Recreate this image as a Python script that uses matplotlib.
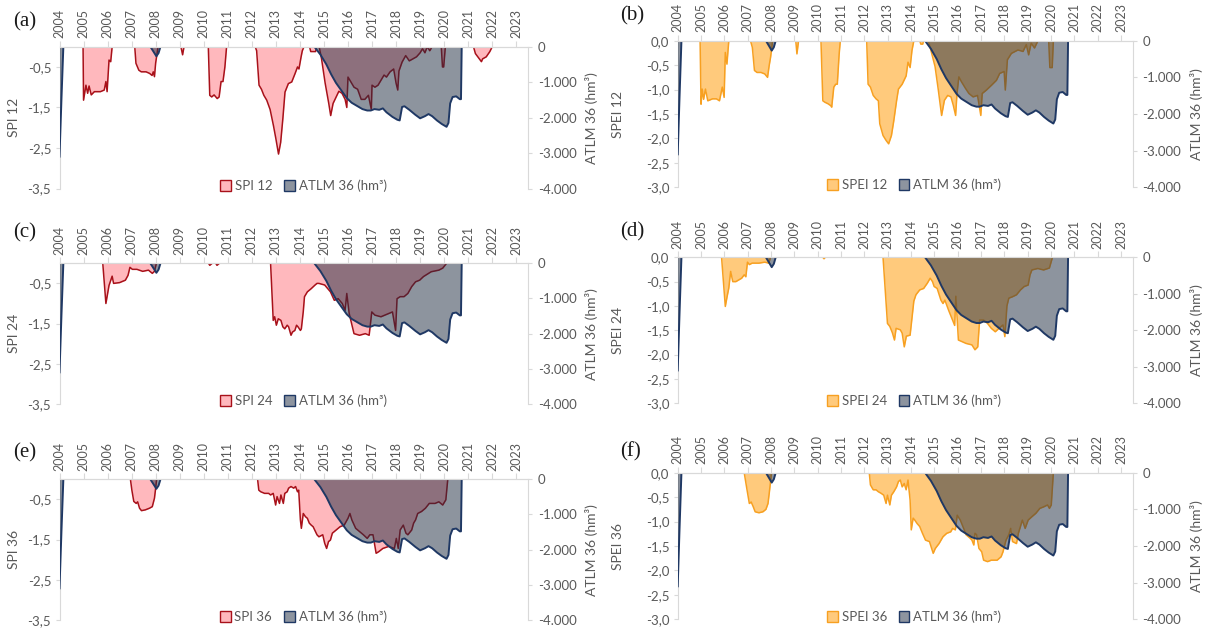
import numpy as np
import matplotlib
matplotlib.use("Agg")
import matplotlib.pyplot as plt
from matplotlib.patches import Patch
from matplotlib.ticker import FuncFormatter

plt.rcParams['font.family'] = ['Lato', 'DejaVu Sans']

years = list(range(2004, 2024))

# ATLM 36 (hm3), same series in every panel
atlm_t = [2004.0, 2004.08, 2004.16,
          2007.78, 2007.92, 2008.03, 2008.12, 2008.2,
          2014.6, 2014.85, 2015.1, 2015.3, 2015.5, 2015.75, 2015.95, 2016.15, 2016.4, 2016.6,
          2016.8, 2016.95, 2017.1, 2017.3, 2017.45, 2017.6, 2017.85, 2018.05, 2018.15, 2018.25,
          2018.35, 2018.55, 2018.8, 2019.0, 2019.2, 2019.35, 2019.5, 2019.7, 2019.9, 2020.1,
          2020.18, 2020.25, 2020.35, 2020.5, 2020.65, 2020.7, 2020.73]
atlm_v = [-3100, -1500, 0,
          0, -150, -270, -180, 0,
          0, -220, -500, -780, -1020, -1260, -1450, -1580, -1680, -1760,
          -1800, -1800, -1760, -1780, -1740, -1850, -1980, -2060, -2080, -1700,
          -1680, -1780, -1920, -2020, -1960, -1900, -1960, -2080, -2180, -2260,
          -2150, -1600, -1420, -1400, -1480, -1480, 0]

spi12_t = [2004.98, 2005.0, 2005.1, 2005.17, 2005.23, 2005.32, 2005.45, 2005.7, 2005.86, 2005.93, 2005.98, 2006.06, 2006.13, 2006.19,
           2007.13, 2007.18, 2007.3, 2007.4, 2007.6, 2007.75, 2007.85, 2007.9, 2007.95, 2008.0, 2008.05, 2008.1,
           2009.05, 2009.12, 2009.18,
           2010.19, 2010.25, 2010.33, 2010.43, 2010.56, 2010.64, 2010.72, 2010.8, 2010.88, 2010.95,
           2012.14, 2012.2, 2012.3, 2012.4, 2012.5, 2012.62, 2012.76, 2012.9, 2013.0, 2013.11, 2013.2, 2013.29,
           2013.38, 2013.52, 2013.66, 2013.8, 2013.9, 2013.96, 2014.05, 2014.1, 2014.17,
           2014.4, 2014.45, 2014.65, 2014.7,
           2014.8, 2014.9, 2015.05, 2015.2, 2015.28, 2015.38, 2015.5, 2015.62, 2015.75, 2015.88, 2015.95, 2016.0,
           2016.1, 2016.25, 2016.4, 2016.55, 2016.7, 2016.85, 2016.97, 2017.0, 2017.12, 2017.25, 2017.4, 2017.5,
           2017.6, 2017.75, 2017.9, 2018.0, 2018.07, 2018.12, 2018.25, 2018.4, 2018.55, 2018.7, 2018.85, 2019.0,
           2019.1, 2019.2, 2019.3, 2019.4, 2019.5, 2019.88, 2019.93, 2019.98, 2020.05,
           2021.22, 2021.3, 2021.45, 2021.55, 2021.6, 2021.75, 2021.9, 2022.0]
spi12_v = [0, -1.32, -0.95, -1.15, -0.97, -1.19, -1.11, -1.11, -1.07, -0.86, -1.11, -0.33, -0.37, 0,
           0, -0.41, -0.58, -0.62, -0.62, -0.66, -0.71, -0.62, -0.74, -0.4, -0.2, 0,
           0, -0.2, 0,
           0, -1.2, -1.24, -1.19, -1.28, -1.24, -0.86, -0.86, -0.5, 0,
           0, -0.1, -0.95, -1.05, -1.2, -1.32, -1.55, -1.95, -2.27, -2.65, -2.36, -1.78,
           -1.12, -0.91, -0.87, -0.66, -0.5, -0.55, -0.25, -0.1, 0,
           0, -0.12, -0.12, 0,
           0, -0.3, -0.9, -1.4, -1.7, -1.4, -1.25, -1.1, -1.15, -1.3, -1.5, -0.75,
           -0.85, -1.0, -1.05, -1.3, -1.3, -1.2, -1.55, -0.95, -1.0, -0.95, -0.8, -0.7,
           -0.75, -0.62, -0.55, -0.9, -1.07, -0.6, -0.38, -0.22, -0.35, -0.3, -0.25, -0.15,
           -0.05, -0.15, 0, -0.1, 0, 0, -0.5, -0.5, 0,
           0, -0.17, -0.29, -0.37, -0.3, -0.25, -0.12, 0]

spei12_t = [2004.96, 2005.0, 2005.05, 2005.11, 2005.19, 2005.29, 2005.49, 2005.66, 2005.79, 2005.91, 2005.99, 2006.04, 2006.11, 2006.19,
            2007.12, 2007.2, 2007.29, 2007.4, 2007.57, 2007.73, 2007.85, 2007.92, 2007.98, 2008.07,
            2009.06, 2009.11, 2009.18,
            2010.14, 2010.22, 2010.31, 2010.44, 2010.56, 2010.6, 2010.69, 2010.77, 2010.84, 2010.92, 2010.97,
            2012.1, 2012.16, 2012.26, 2012.38, 2012.5, 2012.6, 2012.66, 2012.8, 2012.93, 2013.04, 2013.16, 2013.26,
            2013.38, 2013.46, 2013.62, 2013.79, 2013.87, 2013.96, 2014.04, 2014.12,
            2014.37, 2014.42, 2014.5, 2014.54,
            2014.74, 2014.81, 2015.03, 2015.17, 2015.31, 2015.43, 2015.57, 2015.71, 2015.81, 2015.91, 2015.97, 2016.05,
            2016.16, 2016.34, 2016.48, 2016.66, 2016.85, 2016.99, 2017.05, 2017.23, 2017.45, 2017.66, 2017.8, 2017.99,
            2018.04, 2018.13, 2018.3, 2018.58, 2018.8, 2018.94, 2019.04, 2019.15, 2019.29, 2019.44, 2019.9, 2019.95,
            2020.05, 2020.1]
spei12_v = [0, -1.3, -0.99, -1.2, -0.99, -1.23, -1.19, -1.19, -1.23, -0.95, -1.16, -0.24, -0.48, 0,
            0, -0.14, -0.61, -0.65, -0.65, -0.68, -0.75, -0.51, -0.34, 0,
            0, -0.27, 0,
            0, -1.23, -1.26, -1.29, -1.33, -1.36, -0.95, -0.89, -0.89, -0.27, 0,
            0, -0.89, -0.95, -1.12, -1.19, -1.23, -1.7, -1.94, -2.04, -2.11, -1.94, -1.64,
            -1.23, -0.99, -0.89, -0.72, -0.44, -0.55, -0.2, 0,
            0, -0.07, -0.07, 0,
            0, -0.12, -0.53, -1.01, -1.53, -1.22, -1.12, -1.15, -1.32, -1.53, -1.08, -0.74,
            -0.84, -0.98, -1.08, -1.15, -1.12, -1.53, -1.08, -1.01, -0.91, -0.81, -0.67, -0.63,
            -1.01, -0.39, -0.26, -0.19, -0.22, -0.08, -0.29, -0.05, -0.15, 0, 0, -0.55,
            -0.55, 0]

spi24_t = [2005.8, 2005.93, 2006.06, 2006.19, 2006.25, 2006.5, 2006.74, 2006.85, 2006.93, 2007.03, 2007.22, 2007.46, 2007.7, 2007.86, 2007.95, 2008.03,
           2010.2, 2010.25, 2010.35, 2010.5, 2010.55, 2010.65,
           2012.78, 2012.89, 2012.95, 2013.02, 2013.1, 2013.21, 2013.29, 2013.37, 2013.47, 2013.53, 2013.63, 2013.69,
           2013.79, 2013.86, 2013.92, 2014.02, 2014.06, 2014.14, 2014.19, 2014.31, 2014.47, 2014.63, 2014.71, 2014.79,
           2015.03, 2015.27, 2015.43, 2015.59, 2015.76, 2015.88, 2015.95, 2016.05, 2016.13, 2016.25, 2016.48, 2016.72,
           2016.88, 2016.99, 2017.12, 2017.37, 2017.53, 2017.69, 2017.85, 2017.98, 2018.04, 2018.17, 2018.33, 2018.49,
           2018.65, 2018.81, 2018.98, 2019.14, 2019.46, 2019.78, 2019.94, 2020.1]
spi24_v = [0, -1.0, -0.55, -0.32, -0.5, -0.48, -0.42, -0.3, -0.1, -0.15, -0.15, -0.2, -0.17, -0.25, -0.2, 0,
           0, -0.05, 0, 0, -0.05, 0,
           0, -1.42, -1.33, -1.54, -1.38, -1.42, -1.58, -1.63, -1.54, -1.58, -1.79, -1.71,
           -1.67, -1.54, -1.58, -1.67, -1.63, -1.2, -0.83, -0.71, -0.63, -0.54, -0.5, -0.5,
           -0.54, -0.71, -0.92, -0.88, -1.0, -1.17, -0.75, -1.25, -1.45, -1.75, -1.79, -1.75,
           -1.79, -1.21, -1.29, -1.33, -1.29, -1.25, -1.21, -1.67, -0.88, -0.83, -0.83, -0.75,
           -0.58, -0.46, -0.42, -0.33, -0.21, -0.17, -0.12, 0]

spei24_t = [2005.88, 2006.04, 2006.12, 2006.19, 2006.27, 2006.36, 2006.49, 2006.74, 2006.85, 2006.92, 2006.99, 2007.07, 2007.19, 2007.48, 2007.73, 2007.9, 2007.98,
            2010.22, 2010.27, 2010.32,
            2012.8, 2012.99, 2013.09, 2013.2, 2013.29, 2013.36, 2013.54, 2013.62, 2013.71, 2013.8, 2013.96, 2014.04,
            2014.12, 2014.21, 2014.37, 2014.54, 2014.7, 2014.82, 2014.92, 2014.99, 2015.12, 2015.28, 2015.37, 2015.45,
            2015.62, 2015.78, 2015.87, 2015.92, 2016.03, 2016.36, 2016.61, 2016.74, 2016.86, 2016.94, 2017.11, 2017.28,
            2017.44, 2017.61, 2017.77, 2017.94, 2018.02, 2018.11, 2018.19, 2018.35, 2018.52, 2018.69, 2018.85, 2019.02,
            2019.1, 2019.18, 2019.43, 2019.68, 2019.93, 2020.06]
spei24_v = [0, -1.01, -0.8, -0.63, -0.29, -0.5, -0.5, -0.43, -0.36, -0.4, -0.1, -0.15, -0.12, -0.12, -0.1, -0.12, 0,
            0, -0.03, 0,
            0, -1.36, -1.42, -1.55, -1.7, -1.46, -1.49, -1.56, -1.84, -1.62, -1.6, -1.25,
            -0.9, -0.77, -0.67, -0.64, -0.53, -0.43, -0.5, -0.6, -0.64, -0.88, -0.95, -0.88,
            -1.1, -1.29, -1.4, -0.8, -1.7, -1.77, -1.8, -1.9, -1.84, -1.29, -1.29, -1.36,
            -1.46, -1.53, -1.46, -1.39, -1.63, -1.0, -0.84, -0.81, -0.77, -0.67, -0.6, -0.57,
            -0.36, -0.26, -0.23, -0.26, -0.22, 0]

spi36_t = [2006.95, 2007.01, 2007.09, 2007.19, 2007.25, 2007.33, 2007.41, 2007.57, 2007.74, 2007.86, 2007.95, 2007.99, 2008.04,
           2012.24, 2012.29, 2012.37, 2012.53, 2012.7, 2012.78, 2012.89, 2012.99, 2013.05, 2013.15, 2013.21, 2013.31,
           2013.37, 2013.47, 2013.53, 2013.63, 2013.74, 2013.82, 2013.9, 2013.95, 2014.02, 2014.06, 2014.14, 2014.23,
           2014.31, 2014.39, 2014.47, 2014.55, 2014.71, 2014.79, 2014.95, 2015.03, 2015.11, 2015.19, 2015.27, 2015.35,
           2015.51, 2015.67, 2015.84, 2016.0, 2016.08, 2016.16, 2016.32, 2016.48, 2016.64, 2016.8, 2016.91, 2017.04,
           2017.17, 2017.28, 2017.45, 2017.69, 2017.93, 2018.01, 2018.09, 2018.17, 2018.3, 2018.41, 2018.49, 2018.65,
           2018.73, 2018.81, 2018.9, 2019.06, 2019.22, 2019.38, 2019.62, 2019.78, 2019.94, 2020.07, 2020.15]
spi36_v = [0, -0.27, -0.55, -0.6, -0.56, -0.72, -0.78, -0.76, -0.72, -0.68, -0.47, -0.27, 0,
           0, -0.27, -0.31, -0.35, -0.35, -0.39, -0.35, -0.64, -0.43, -0.6, -0.39, -0.6,
           -0.35, -0.31, -0.22, -0.18, -0.22, -0.18, -0.31, -0.27, -1.01, -1.22, -0.85, -0.93,
           -0.97, -1.09, -1.14, -1.18, -1.38, -1.43, -1.38, -1.59, -1.72, -1.55, -1.51, -1.34,
           -1.26, -1.18, -1.14, -0.97, -0.85, -1.01, -1.22, -1.3, -1.38, -1.47, -1.38, -1.38,
           -1.84, -1.8, -1.72, -1.67, -1.72, -1.47, -1.72, -1.26, -1.14, -1.34, -1.38, -1.26,
           -1.09, -1.01, -0.85, -0.8, -0.72, -0.6, -0.6, -0.56, -0.64, -0.51, 0]

spei36_t = [2006.85, 2006.95, 2007.07, 2007.15, 2007.24, 2007.32, 2007.48, 2007.65, 2007.78, 2007.87, 2007.93, 2007.98, 2008.02,
            2012.21, 2012.26, 2012.38, 2012.5, 2012.6, 2012.71, 2012.83, 2012.93, 2012.99, 2013.09, 2013.16, 2013.26,
            2013.38, 2013.46, 2013.54, 2013.62, 2013.71, 2013.79, 2013.87, 2013.96, 2014.01, 2014.09, 2014.16, 2014.26,
            2014.37, 2014.49, 2014.62, 2014.79, 2014.95, 2015.04, 2015.2, 2015.37, 2015.53, 2015.7, 2015.78, 2015.9,
            2015.98, 2016.11, 2016.28, 2016.36, 2016.53, 2016.61, 2016.69, 2016.74, 2016.81, 2016.91, 2017.03, 2017.11,
            2017.28, 2017.44, 2017.69, 2017.86, 2017.94, 2018.07, 2018.19, 2018.27, 2018.35, 2018.52, 2018.6, 2018.69,
            2018.77, 2018.89, 2019.02, 2019.18, 2019.35, 2019.52, 2019.68, 2019.85, 2019.93, 2020.01, 2020.1]
spei36_v = [0, -0.29, -0.63, -0.6, -0.7, -0.8, -0.82, -0.8, -0.75, -0.63, -0.39, -0.18, 0,
            0, -0.25, -0.35, -0.35, -0.39, -0.42, -0.46, -0.63, -0.46, -0.66, -0.46, -0.39,
            -0.29, -0.18, -0.15, -0.29, -0.22, -0.35, -0.15, -0.56, -1.17, -0.93, -0.97, -1.04,
            -1.1, -1.24, -1.38, -1.41, -1.65, -1.55, -1.45, -1.31, -1.24, -1.21, -1.14, -1.17,
            -0.87, -0.97, -1.17, -1.27, -1.34, -1.38, -1.48, -1.24, -1.27, -1.55, -1.62, -1.79,
            -1.82, -1.79, -1.79, -1.72, -1.62, -1.38, -1.27, -1.14, -1.41, -1.45, -1.24, -1.1,
            -0.97, -1.14, -0.97, -0.9, -0.83, -0.73, -0.7, -0.66, -0.73, -0.66, 0]

GRID = '#d9d9d9'
TXT = '#595959'
W, H = 1208, 630


def rect(l, r, t, b):
    return [l / W, 1 - b / H, (r - l) / W, (b - t) / H]


def outline(t, v):
    # no line along the zero axis between episodes
    xs, ys = [], []
    for i in range(len(t)):
        if i > 0 and v[i] == 0 and v[i - 1] == 0:
            xs.append(np.nan)
            ys.append(np.nan)
        xs.append(t[i])
        ys.append(v[i])
    return xs, ys


spi_style = ('#ffb8bd', '#a8111a')
spei_style = ('#ffca7c', '#f7a021')

panels = [
    ('(a)', 'SPI 12', spi12_t, spi12_v, spi_style, -3.5, (59.5, 528.3, 46.7, 188.5), (13, 22)),
    ('(b)', 'SPEI 12', spei12_t, spei12_v, spei_style, -3.0, (677.7, 1132.7, 40.7, 187.3), (620, 16)),
    ('(c)', 'SPI 24', spi24_t, spi24_v, spi_style, -3.5, (59.5, 528.3, 263.3, 404), (13, 233)),
    ('(d)', 'SPEI 24', spei24_t, spei24_v, spei_style, -3.0, (677.7, 1132.7, 257.3, 403.3), (620, 232)),
    ('(e)', 'SPI 36', spi36_t, spi36_v, spi_style, -3.5, (59.5, 528.3, 479.3, 620), (13, 453)),
    ('(f)', 'SPEI 36', spei36_t, spei36_v, spei_style, -3.0, (677.7, 1132.7, 472.7, 619.3), (620, 452)),
]

fig = plt.figure(figsize=(12.08, 6.3), dpi=100)

for tag, name, t, v, (fill_c, line_c), ymin, (l, r, tp, bt), (tx, ty) in panels:
    ax = fig.add_axes(rect(l, r, tp, bt))
    ax.fill_between(t, v, 0, color=fill_c, lw=0, zorder=1)
    lx, ly = outline(t, v)
    ax.plot(lx, ly, color=line_c, lw=1.1, zorder=2)
    ax.set_xlim(2004, 2023.5)
    ax.set_ylim(ymin, 0)
    if ymin == -3.5:
        ax.set_yticks([-0.5, -1.5, -2.5, -3.5])
    else:
        ax.set_yticks([0, -0.5, -1.0, -1.5, -2.0, -2.5, -3.0])
    ax.yaxis.set_major_formatter(FuncFormatter(lambda x, p: f"{x:.1f}".replace('.', ',')))
    for s in ['right', 'bottom']:
        ax.spines[s].set_visible(False)
    for s in ['left', 'top']:
        ax.spines[s].set_color(GRID)
    ax.tick_params(axis='y', colors=GRID, labelcolor=TXT, labelsize=9.5, length=3, pad=3)
    ax.set_ylabel(name, color=TXT, fontsize=10)
    ylab_px = 19.5 if l < 600 else 623.5
    ax.yaxis.set_label_coords((ylab_px - l) / (r - l), 0.5)

    ax2 = ax.twinx()
    ax2.fill_between(atlm_t, atlm_v, 0, facecolor='#1c2a3f', alpha=0.5, lw=0)
    lx, ly = outline(atlm_t, atlm_v)
    ax2.plot(lx, ly, color='#1f3864', lw=1.4)
    ax2.set_ylim(-4000, 0)
    ax2.set_yticks([0, -1000, -2000, -3000, -4000])
    ax2.yaxis.set_major_formatter(FuncFormatter(
        lambda x, p: '0' if x == 0 else f"{x:,.0f}".replace(',', '.')))
    for s in ['left', 'bottom']:
        ax2.spines[s].set_visible(False)
    for s in ['right', 'top']:
        ax2.spines[s].set_color(GRID)
    ax2.tick_params(axis='y', colors=GRID, labelcolor=TXT, labelsize=9.5, length=3, pad=4)
    ax2.set_ylabel('ATLM 36 (hm³)', color=TXT, fontsize=10)
    ax2.yaxis.set_label_coords((r + 57 - l) / (r - l), 0.5)

    ax.xaxis.tick_top()
    ax.set_xticks(years)
    ax.set_xticklabels([str(y) for y in years], rotation=90)
    ax.tick_params(axis='x', colors=GRID, labelcolor=TXT, labelsize=9, length=4, pad=2)

    handles = [Patch(facecolor=fill_c, edgecolor=line_c, lw=1.0),
               Patch(facecolor='#8d949f', edgecolor='#1f3864', lw=1.0)]
    leg = ax2.legend(handles, [name, 'ATLM 36 (hm³)'], loc='center', bbox_to_anchor=(0.52, 0.02),
                     ncol=2, frameon=False, fontsize=9.5, handlelength=0.8, handleheight=0.9,
                     handletextpad=0.3, columnspacing=0.9)
    for txt in leg.get_texts():
        txt.set_color(TXT)

    fig.text(tx / W, 1 - ty / H, tag, fontsize=15, family='Liberation Serif',
             va='center', ha='left', color='#1a1a1a')

fig.savefig('out.png', dpi=100)
